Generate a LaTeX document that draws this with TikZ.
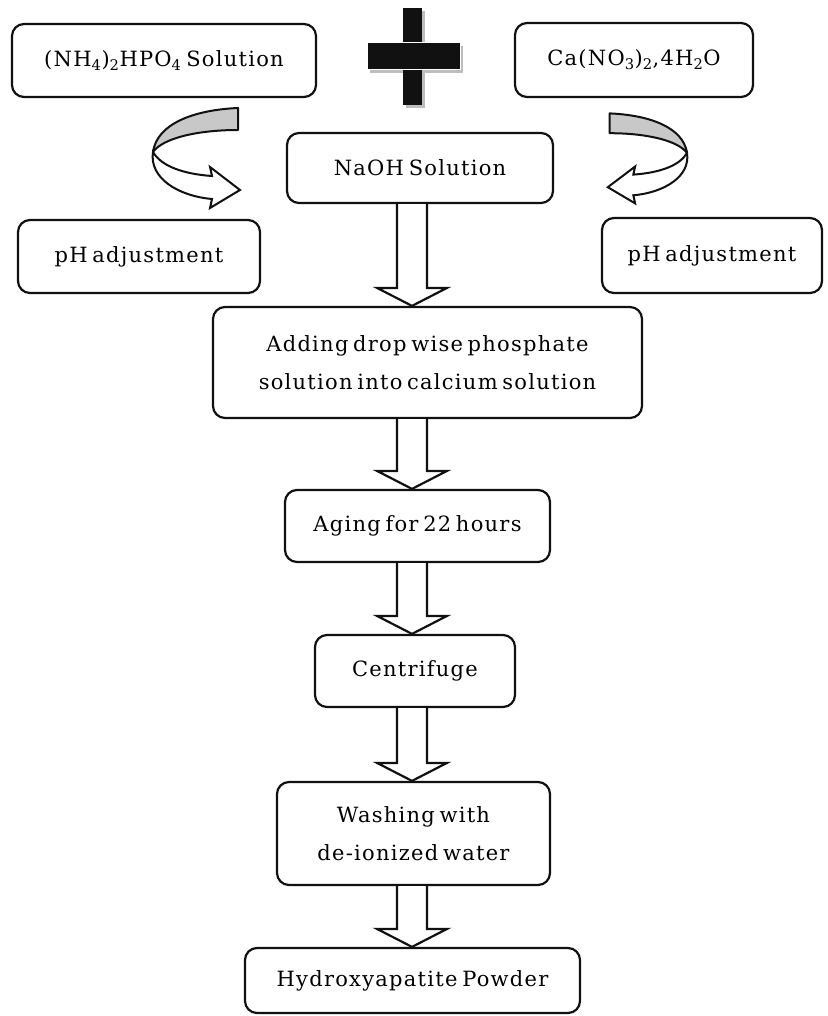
\documentclass[tikz,border=0pt]{standalone}
\usepackage{fontspec}
\setmainfont{DejaVu Serif}[LetterSpace=6,WordSpace=0.6]
\usetikzlibrary{calc}
\definecolor{FlowInk}{HTML}{111111}
\definecolor{FlowShade}{HTML}{C8C8C8}
\definecolor{FlowShadow}{HTML}{BDBDBD}
\tikzset{
  flow/box/.style={
    draw=FlowInk, line width=2.2pt, fill=white, rounded corners=12pt,
    inner sep=0pt, align=center,
    font=\fontsize{21}{38}\selectfont
  },
  flow/block/.style={
    draw=FlowInk, line width=2.2pt, fill=white, line join=miter,
    to path={($(\tikztostart)+(-15,0)$) -- ($(\tikztotarget)+(-15,-18)$)
      -- ++(-20,0) -- (\tikztotarget) -- ++(35,-18) -- ++(-20,0)
      -- ($(\tikztostart)+(15,0)$)}
  },
  flow/curl/.pic={
    \fill[FlowShade,draw=FlowInk,line width=2pt,line join=round]
      (85,-44) .. controls (40,-42) and (4,-28) .. (0,0)
      .. controls (10,-14) and (45,-22) .. (85,-22) -- cycle;
    \filldraw[fill=white,draw=FlowInk,line width=2pt,line join=miter]
      (0,0) .. controls (8,14) and (30,22) .. (59,24) -- (57,15)
      -- (87,38) -- (57,56) -- (59,47)
      .. controls (25,44) and (-4,26) .. (0,0) -- cycle;
  }
}

\begin{document}
\begin{tikzpicture}[x=1pt,y=-1pt]
  \useasboundingbox (0,0) rectangle (827,1016);
  % reagents
  \node[flow/box,minimum width=304pt,minimum height=73pt] (nh4) at (164,60.5)
    {(NH\textsubscript{4})\textsubscript{2}HPO\textsubscript{4} Solution};
  \node[flow/box,minimum width=238pt,minimum height=74pt] (ca) at (634,60)
    {Ca(NO\textsubscript{3})\textsubscript{2},4H\textsubscript{2}O};
  % plus sign
  \fill[FlowShadow] (406,11) rectangle (425,108);
  \fill[FlowShadow] (370,46) rectangle (463,73);
  \fill[FlowInk] (403,8) rectangle (422,105);
  \filldraw[fill=FlowInk,draw=white,line width=1pt] (367,43) rectangle (460,70);
  \node[flow/box,minimum width=266pt,minimum height=70pt] (naoh) at (420,168)
    {NaOH Solution};
  \node[flow/box,minimum width=242pt,minimum height=73pt] (phl) at (139,256.5)
    {pH adjustment};
  \node[flow/box,minimum width=220pt,minimum height=75pt] (phr) at (712,255.5)
    {pH adjustment};
  \pic at (153,152) {flow/curl};
  \pic[xscale=-.91,yscale=.9] at (687,153) {flow/curl};
  % process chain
  \node[flow/box,minimum width=429pt,minimum height=111pt] (add) at (427.5,362.5)
    {Adding drop wise phosphate\\solution into calcium solution};
  \node[flow/box,minimum width=265pt,minimum height=72pt] (aging) at (417.5,526)
    {Aging for 22 hours};
  \node[flow/box,minimum width=200pt,minimum height=72pt] (cent) at (415,671)
    {Centrifuge};
  \node[flow/box,minimum width=273pt,minimum height=103pt] (wash) at (413.5,833.5)
    {Washing with\\de-ionized water};
  \node[flow/box,minimum width=335pt,minimum height=65pt] (hap) at (412.5,980.5)
    {Hydroxyapatite Powder};
  \coordinate (spine) at (412,0);
  \draw[flow/block] (naoh.south -| spine) to (add.north -| spine);
  \draw[flow/block] (add.south -| spine) to (aging.north -| spine);
  \draw[flow/block] (aging.south -| spine) to (cent.north -| spine);
  \draw[flow/block] (cent.south -| spine) to (wash.north -| spine);
  \draw[flow/block] (wash.south -| spine) to (hap.north -| spine);
\end{tikzpicture}
\end{document}
